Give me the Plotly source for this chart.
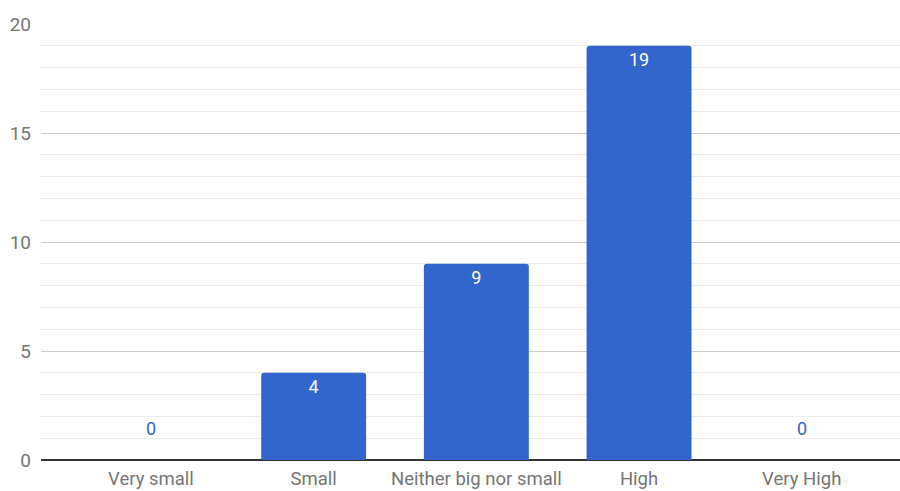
import plotly.graph_objects as go

# Survey responses per rating
categories = ["Very small", "Small", "Neither big nor small", "High", "Very High"]
counts = [0, 4, 9, 19, 0]
y_ticks = [0, 5, 10, 15, 20]

BAR_COLOR = "#3366cc"
FONT = "Roboto, Arial, sans-serif"

fig = go.Figure()

# Non-zero bars carry their value inside, near the top
inside_text = [str(v) if v > 0 else "" for v in counts]
fig.add_trace(go.Bar(
    x=categories,
    y=counts,
    marker=dict(color=BAR_COLOR, line=dict(width=0)),
    width=0.645,
    text=inside_text,
    textposition="inside",
    insidetextanchor="end",
    textfont=dict(family=FONT, size=18, color="white"),
    textangle=0,
    cliponaxis=False,
    hoverinfo="x+y",
))

# Zero-valued categories get a label floating above the baseline
for cat, v in zip(categories, counts):
    if v == 0:
        fig.add_annotation(
            x=cat, y=v, text=str(v), showarrow=False,
            yshift=32, font=dict(family=FONT, size=18, color=BAR_COLOR),
        )

fig.update_layout(
    width=900, height=491,
    margin=dict(l=41, r=0, t=24, b=31),
    paper_bgcolor="white", plot_bgcolor="white",
    showlegend=False,
    barcornerradius=3,
    font=dict(family=FONT, size=19, color="#757575"),
)

fig.update_xaxes(
    range=[-0.676, 4.604],
    automargin=False,
    showgrid=False,
    showline=False,
    zeroline=False,
    ticks="",
    ticklabelstandoff=5,
    tickfont=dict(family=FONT, size=18.5, color="#757575"),
    fixedrange=True,
)

fig.update_yaxes(
    range=[0, 20],
    automargin=False,
    tickvals=y_ticks,
    ticktext=[str(t) for t in y_ticks],
    showgrid=True,
    gridcolor="#cccccc",
    gridwidth=1,
    minor=dict(dtick=1, showgrid=True, gridcolor="#ebebeb", gridwidth=1),
    zeroline=True,
    zerolinecolor="#333333",
    zerolinewidth=1.5,
    ticks="",
    ticklabelstandoff=9,
    tickfont=dict(family=FONT, size=19, color="#757575"),
    fixedrange=True,
)

fig.write_html("out.html")
